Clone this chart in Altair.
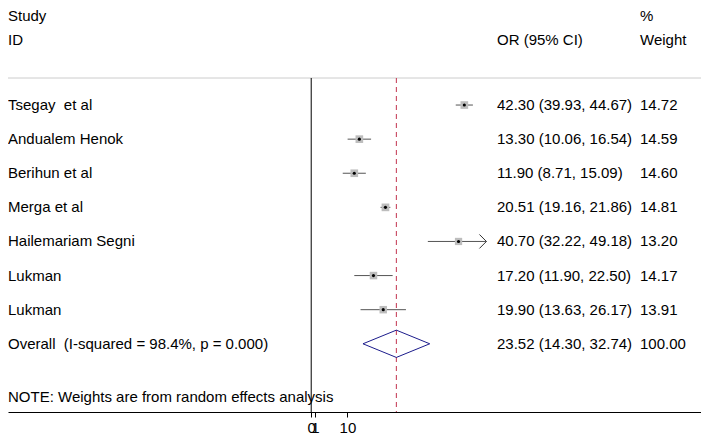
import altair as alt
import pandas as pd

# ---- data ----
studies = ["Tsegay\u00a0 et al", "Andualem Henok", "Berihun et al", "Merga et al",
           "Hailemariam Segni", "Lukman", "Lukman"]
or_vals = [42.30, 13.30, 11.90, 20.51, 40.70, 17.20, 19.90]
ci_lo = [39.93, 10.06, 8.71, 19.16, 32.22, 11.90, 13.63]
ci_hi = [44.67, 16.54, 15.09, 21.86, 49.18, 22.50, 26.17]
weights = [14.72, 14.59, 14.60, 14.81, 13.20, 14.17, 13.91]

overall_label = "Overall\u00a0 (I-squared = 98.4%, p = 0.000)"
overall_or = 23.52
overall_lo = 14.30
overall_hi = 32.74
overall_weight = 100.00

note_text = "NOTE: Weights are from random effects analysis"
tick_values = [0, 1, 10]
axis_max = 48.4          # upper display limit (CI beyond it gets an arrow)
null_value = 0

FONT = "Liberation Sans"
FS = 15
W, H = 693, 404

# ---- tables built from the arrays ----
rows = list(range(1, len(studies) + 1))
df = pd.DataFrame({
    "row": rows,
    "study": studies,
    "or": or_vals,
    "lo": ci_lo,
    "hi": [min(h, axis_max) for h in ci_hi],
    "clipped": [h > axis_max for h in ci_hi],
    "weight": weights,
    "ortxt": [f"{o:.2f} ({l:.2f}, {h:.2f})" for o, l, h in zip(or_vals, ci_lo, ci_hi)],
    "wtxt": [f"{w:.2f}" for w in weights],
})
overall_row = len(studies) + 1
df_all = pd.concat([df, pd.DataFrame({
    "row": [overall_row],
    "study": [overall_label],
    "ortxt": [f"{overall_or:.2f} ({overall_lo:.2f}, {overall_hi:.2f})"],
    "wtxt": [f"{overall_weight:.2f}"],
})], ignore_index=True)

half_h = 0.4
diamond = pd.DataFrame({
    "x": [overall_lo, overall_or, overall_hi, overall_or, overall_lo],
    "y": [overall_row, overall_row - half_h, overall_row, overall_row + half_h, overall_row],
    "o": [0, 1, 2, 3, 4],
})
note_df = pd.DataFrame({"row": [9.56], "txt": [note_text]})

xs = alt.Scale(domain=[-83.76, 107.68], nice=False, zero=False)
ys = alt.Scale(domain=[-1.845, 10.0], nice=False, zero=False, reverse=True)

X = alt.X("or:Q", scale=xs,
          axis=alt.Axis(values=tick_values, grid=False, title=None, tickSize=5,
                        labelOverlap=False, labelFlush=False, labelFont=FONT,
                        labelFontSize=FS, labelColor="black", tickColor="black",
                        domainColor="black", labelPadding=3))
Y = alt.Y("row:Q", scale=ys, axis=None)

base = alt.Chart(df)

# header separator
sep = alt.Chart(pd.DataFrame({"a": [0]})).mark_rule(color="#cccccc", strokeWidth=1).encode(
    x=alt.value(0), x2=alt.value(W), y=alt.value(70))

# null line and overall line
null_line = alt.Chart(pd.DataFrame({"or": [null_value]})).mark_rule(
    color="black", strokeWidth=1).encode(x=X, y=alt.value(70), y2=alt.value(H))
ov_line = alt.Chart(pd.DataFrame({"or": [overall_or]})).mark_rule(
    color="#c2334f", strokeWidth=1, strokeDash=[5, 4]).encode(
    x=alt.X("or:Q", scale=xs), y=alt.value(70), y2=alt.value(H))

ci = base.mark_rule(color="#555555", strokeWidth=1).encode(
    x=alt.X("lo:Q", scale=xs), x2="hi:Q", y=Y)
arrow = base.transform_filter("datum.clipped").mark_point(
    shape="M -1 -1 L 0 0 L -1 1", filled=False, size=196, color="#333333",
    strokeWidth=1, opacity=1).encode(x=alt.X("hi:Q", scale=xs), y=Y)
box = base.mark_square(color="#bdbdbd", opacity=1).encode(
    x=alt.X("or:Q", scale=xs), y=Y,
    size=alt.Size("weight:Q", scale=alt.Scale(domain=[0, 15], range=[0, 60]), legend=None))
dot = base.mark_circle(color="black", size=10, opacity=1).encode(
    x=alt.X("or:Q", scale=xs), y=Y)

dia = alt.Chart(diamond).mark_line(color="#1c1c8c", strokeWidth=1).encode(
    x=alt.X("x:Q", scale=xs), y=alt.Y("y:Q", scale=ys, axis=None), order="o:Q")

txt_kw = dict(font=FONT, fontSize=FS, color="black", baseline="middle", align="left")
study_txt = alt.Chart(df_all).mark_text(**txt_kw).encode(
    x=alt.value(0), y=Y, text="study:N")
or_txt = alt.Chart(df_all).mark_text(**txt_kw).encode(
    x=alt.value(489), y=Y, text="ortxt:N")
w_txt = alt.Chart(df_all).mark_text(**txt_kw).encode(
    x=alt.value(632), y=Y, text="wtxt:N")
note = alt.Chart(note_df).mark_text(**txt_kw).encode(
    x=alt.value(0), y=Y, text="txt:N")

headers = pd.DataFrame({
    "txt": ["Study", "ID", "OR (95% CI)", "%", "Weight"],
    "px": [0, 0, 489, 632, 632],
    "py": [8, 32, 32, 8, 32],
})
hdr = alt.Chart(headers).mark_text(**txt_kw).encode(
    x=alt.X("px:Q", scale=None), y=alt.Y("py:Q", scale=None), text="txt:N")

axis_layer = alt.Chart(pd.DataFrame({"or": [0]})).mark_point(opacity=0).encode(x=X)

chart = alt.layer(
    axis_layer, sep, null_line, ov_line, ci, arrow, box, dot, dia,
    study_txt, or_txt, w_txt, note, hdr
).properties(
    width=W, height=H,
    autosize=alt.AutoSizeParams(type="none"),
    padding={"top": 0, "left": 0, "right": 0, "bottom": 22},
).configure_view(stroke=None)

chart.save("out.html", embed_options={"renderer": "svg", "actions": False})
